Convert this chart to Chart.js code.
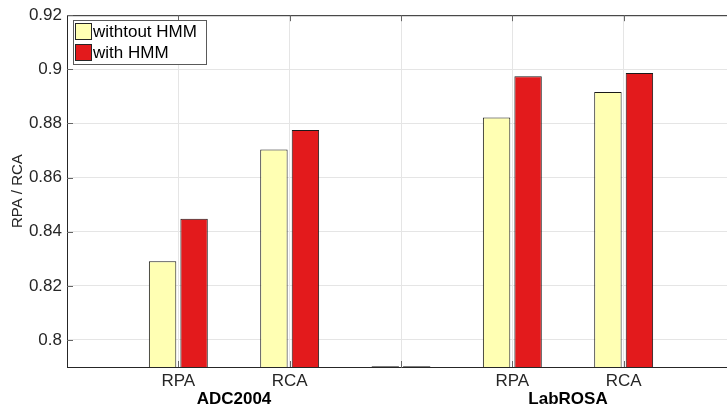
<!DOCTYPE html>
<html>
<head>
<meta charset="utf-8">
<script src="https://cdn.jsdelivr.net/npm/chart.js@4/dist/chart.umd.min.js"></script>
<style>
  html, body { margin: 0; padding: 0; background: #fff; overflow: hidden; }
  canvas { display: block; }
</style>
</head>
<body>
<canvas id="chart" width="740" height="407"></canvas>
<script>
// data
const categories = ['', 'RPA', 'RCA', '', 'RPA', 'RCA', ''];
const withoutHMM = [null, 0.8291, 0.8704, 0.7903, 0.8822, 0.8916, null];
const withHMM = [null, 0.8448, 0.8776, 0.7903, 0.8974, 0.8986, null];
const groups = ['ADC2004', 'LabROSA'];
const groupSpan = [[1, 2], [4, 5]];
const yTicks = [0.8, 0.82, 0.84, 0.86, 0.88, 0.9, 0.92];

const axisColor = '#262626';
const fontFamily = '"Liberation Sans", Arial, Helvetica, sans-serif';

// top border, inner tick marks, group labels and legend box
const matlabBits = {
  id: 'matlabBits',
  afterDraw(chart) {
    const ctx = chart.ctx;
    const a = chart.chartArea;
    const x = chart.scales.x, y = chart.scales.y;
    ctx.save();
    ctx.strokeStyle = axisColor;
    ctx.lineWidth = 1;
    ctx.beginPath();
    ctx.moveTo(a.left, a.top + 0.5);
    ctx.lineTo(a.right, a.top + 0.5);
    ctx.stroke();

    // inner ticks
    ctx.strokeStyle = '#666';
    ctx.beginPath();
    yTicks.forEach(v => {
      const py = Math.round(y.getPixelForValue(v)) + 0.5;
      ctx.moveTo(a.left, py); ctx.lineTo(a.left + 6, py);
    });
    for (let i = 1; i < categories.length - 1; i++) {
      const px = Math.round(x.getPixelForValue(i)) + 0.5;
      ctx.moveTo(px, a.bottom); ctx.lineTo(px, a.bottom - 6);
      ctx.moveTo(px, a.top); ctx.lineTo(px, a.top + 6);
    }
    ctx.stroke();

    // group labels
    ctx.fillStyle = '#000';
    ctx.font = 'bold 17px ' + fontFamily;
    ctx.textAlign = 'center';
    ctx.textBaseline = 'middle';
    groups.forEach((g, i) => {
      const cx = (x.getPixelForValue(groupSpan[i][0]) + x.getPixelForValue(groupSpan[i][1])) / 2;
      ctx.fillText(g, cx, 399);
    });

    // legend
    const lx = 73, ly = 20, lw = 133, lh = 44;
    ctx.fillStyle = '#fff';
    ctx.fillRect(lx, ly, lw, lh);
    ctx.strokeStyle = '#5a5a5a';
    ctx.strokeRect(lx + 0.5, ly + 0.5, lw, lh);
    ctx.font = '17px ' + fontFamily;
    ctx.textAlign = 'left';
    chart.data.datasets.forEach((ds, i) => {
      const sy = ly + 3 + i * 21;
      ctx.fillStyle = ds.backgroundColor;
      ctx.fillRect(lx + 2, sy, 17, 17);
      ctx.strokeStyle = axisColor;
      ctx.strokeRect(lx + 2.5, sy + 0.5, 16, 16);
      ctx.fillStyle = '#000';
      ctx.fillText(ds.label, lx + 20, sy + 9);
    });
    ctx.restore();
  }
};

new Chart(document.getElementById('chart'), {
  type: 'bar',
  data: {
    labels: categories,
    datasets: [
      {
        label: 'withtout HMM',
        data: withoutHMM,
        backgroundColor: '#ffffb3',
        borderColor: '#1a1a1a',
        borderWidth: 1,
        borderSkipped: false
      },
      {
        label: 'with HMM',
        data: withHMM,
        backgroundColor: '#e31a1c',
        borderColor: '#1a1a1a',
        borderWidth: 1,
        borderSkipped: false
      }
    ]
  },
  options: {
    responsive: false,
    animation: false,
    categoryPercentage: 0.566,
    barPercentage: 0.87,
    layout: { padding: { left: 0, right: 5, top: 15, bottom: 0 } },
    plugins: {
      legend: { display: false },
      tooltip: { enabled: false }
    },
    scales: {
      x: {
        offset: false,
        afterFit(scale) { scale.height = 40; },
        grid: { color: '#e5e5e5', lineWidth: 1, drawTicks: false, offset: false },
        border: { color: axisColor, width: 1 },
        ticks: {
          color: axisColor,
          font: { family: fontFamily, size: 17 },
          padding: 4,
          maxRotation: 0,
          autoSkip: false
        }
      },
      y: {
        min: 0.79,
        max: 0.92,
        afterFit(scale) { scale.width = 67; },
        afterBuildTicks(scale) { scale.ticks = yTicks.map(v => ({ value: v })); },
        grid: { color: '#e5e5e5', lineWidth: 1, drawTicks: false },
        border: { color: axisColor, width: 1 },
        ticks: {
          color: axisColor,
          font: { family: fontFamily, size: 17 },
          padding: 5,
          callback: v => String(Math.round(v * 100) / 100)
        },
        title: {
          display: true,
          text: 'RPA / RCA',
          color: axisColor,
          font: { family: fontFamily, size: 15 },
          padding: { top: 9, bottom: 0 }
        }
      }
    }
  },
  plugins: [matlabBits]
});
</script>
</body>
</html>
